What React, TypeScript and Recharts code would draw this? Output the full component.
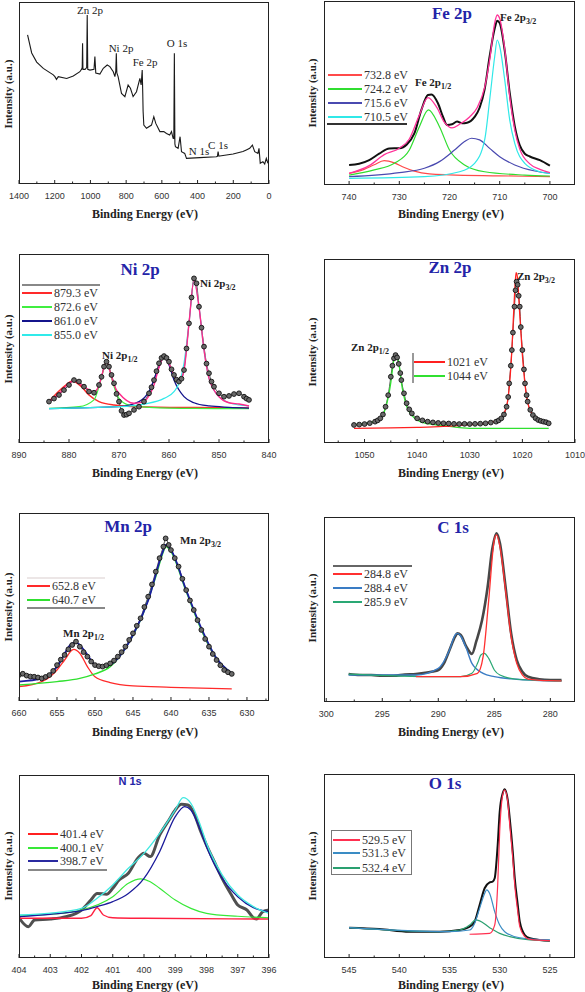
import React from "react";
import { Line, LineChart, XAxis, YAxis } from "recharts";

// ---------- data (binding energy in eV, intensity in % of plot height) ----------

// survey
const surveyX = [1352, 1329, 1301, 1264, 1208, 1199, 1190, 1180, 1133, 1096, 1059, 1050, 1046, 1044, 1042, 1030, 1021, 1018, 1015, 1003, 980, 975, 970, 947, 928, 906, 891, 872, 863, 858, 855, 852, 845, 826, 807, 789, 776, 761, 742, 723, 716, 712, 710, 707, 705, 701, 686, 658, 645, 634, 611, 589, 574, 556, 546, 537, 533, 530, 527, 524, 509, 498, 490, 472, 462, 388, 295, 289, 285, 281, 276, 201, 146, 127, 108, 93, 80, 62, 56, 49, 34, 24, 15, 6];
const surveyY = [82, 72, 67, 63.5, 60, 59, 57.5, 59, 58, 59.3, 61.7, 63, 64, 77.3, 63, 63, 64, 92.9, 63, 62.6, 63, 70, 61, 60.4, 63.6, 65.4, 64.5, 61.7, 59, 62, 71.8, 61, 59, 49.8, 48, 54.4, 52.6, 48, 50.7, 58, 54.4, 60, 62.6, 50, 40, 32.4, 30.6, 32.4, 37, 33.3, 28.8, 28.8, 27.8, 26.9, 28.8, 25.1, 25, 71.8, 22, 20.5, 19.6, 26, 17.8, 16.8, 14.1, 14.5, 15, 15.2, 17.8, 15.3, 15.4, 16.5, 17.8, 18.7, 19.6, 21.4, 17.8, 16.8, 19.6, 11.4, 12.3, 11, 14.1, 11.4];
const surveyLabels = ["Zn 2p", "Ni 2p", "Fe 2p", "O 1s", "N 1s", "C 1s"];

// Fe 2p
const feRawX = [740, 738, 736, 734, 732, 730, 728.5, 727, 725.6, 724.3, 723.6, 722.3, 721.3, 720.5, 719.5, 718.5, 717.5, 716.5, 715, 714, 713, 712, 711, 710.5, 710, 709, 708, 707, 706, 705, 704, 702, 700];
const feRawY = [10.9, 11.5, 13.5, 17, 19.9, 20, 22, 28, 40.8, 48.9, 49.2, 44.4, 37.1, 32.6, 33, 34.5, 33.5, 33.8, 37, 42, 52, 70, 85, 89.3, 88, 73, 50, 32, 21.5, 17, 15.5, 13.5, 10.5];
const feEnvX = [740, 736, 733, 730, 728, 726, 724.3, 722.5, 721, 719.5, 718, 716, 714.5, 713, 712, 711, 710.5, 710, 709, 708, 707, 706, 704, 702, 700];
const feEnvY = [6.3, 10.5, 16.5, 20, 25, 38, 47.5, 42, 34, 31, 33, 37, 42, 53, 68, 88, 92.4, 90.5, 74, 48, 30, 19.5, 11.5, 8.5, 6.7];
const fe1X = [740, 737, 735, 733, 731, 729, 727, 724, 720, 710, 700];
const fe1Y = [6.3, 8.5, 11, 13.2, 12, 9.5, 7.5, 6, 5.5, 5, 4.5];
const fe2X = [740, 735, 731, 728, 726, 724.2, 722, 720, 717, 713, 705, 700];
const fe2Y = [5.4, 8.2, 11.8, 19, 31.7, 40.8, 31.7, 19, 10.9, 7.2, 5.4, 4.9];
const fe3X = [740, 730, 725, 722, 719, 717, 715.6, 714, 712, 710, 707, 703, 700];
const fe3Y = [4.5, 6.7, 9.1, 12.7, 19, 23.6, 25.4, 24.5, 19.9, 15.4, 10.9, 7.6, 6.3];
const fe4X = [740, 725, 718, 715, 713, 712, 711, 710.5, 710, 709, 708, 707, 705, 702, 700];
const fe4Y = [3.6, 4.5, 7.2, 11.8, 24.5, 46.2, 69.7, 78.8, 75.4, 57.1, 35.3, 22.6, 11.8, 7.2, 6.3];
const feLegend = ["732.8 eV", "724.2 eV", "715.6 eV", "710.5 eV"];

// Ni 2p
const niRawX = [884, 883, 882, 881, 880, 879, 878, 877, 876, 875, 874, 873.5, 873, 872.5, 872, 871.5, 871, 870.5, 870, 869.5, 869, 868.5, 868, 867, 866, 865, 864, 863.5, 863, 862.5, 862, 861.5, 861, 860.5, 860, 859.5, 859, 858.5, 858, 857.5, 857, 856.5, 856, 855.5, 855, 854.5, 854, 853.5, 853, 852.5, 852, 851.5, 851, 850, 849, 848, 847, 846, 845, 844.5, 844];
const niRawY = [21.9, 23.5, 25.4, 28, 30.7, 33.3, 32.5, 29.8, 27.2, 26.6, 30.7, 35, 40.4, 43, 40.4, 36, 31.6, 26, 21.9, 17, 14.8, 15, 15.7, 17.5, 19.2, 21.9, 26.3, 29.5, 33.3, 38, 42.2, 45, 46, 45, 43, 39, 36, 33.5, 32.5, 34, 38.6, 50, 63.3, 77, 87.1, 84.5, 72.1, 61, 51, 42, 36.9, 32.5, 29.8, 26.3, 24.5, 24.9, 25.9, 26.3, 24.5, 23.5, 22.8];
const niEnvX = [884, 882, 880, 879, 877, 875, 874, 873.5, 872.5, 871.5, 870.5, 870, 867, 865, 864, 863, 862, 861, 860, 859, 858, 857, 856, 855, 854, 853, 852, 851, 850, 848, 846, 844];
const niEnvY = [21.9, 26, 31.6, 32.8, 29.8, 27, 30.5, 35, 43, 35, 28, 26.3, 21, 21.9, 25, 30.7, 40, 45.7, 42, 36, 32.5, 38.6, 63.3, 86.2, 72, 49.2, 34.2, 28, 24.5, 21.3, 20.6, 19.6];
const ni1X = [884, 881, 879.3, 877.5, 876, 874, 871, 866, 855, 844];
const ni1Y = [21.9, 29.8, 32.8, 29.8, 25.4, 21.9, 20.1, 19.2, 18.7, 18.5];
const ni2X = [884, 878, 875, 874, 873, 872.6, 872, 871, 870, 868, 864, 855, 844];
const ni2Y = [18.3, 19.2, 22.8, 29.8, 39.5, 42.7, 39.5, 29.8, 23.6, 20.1, 18.9, 18.3, 18.2];
const ni3X = [884, 870, 866, 864, 862, 861, 860, 859, 857, 855, 852, 848, 844];
const ni3Y = [18.2, 19.2, 21.9, 27.2, 40.4, 45.7, 41.3, 33.3, 24.5, 21.3, 19.6, 18.9, 18.5];
const ni4X = [884, 870, 865, 861, 859, 858, 857, 856, 855, 854, 853, 852, 850, 848, 846, 844];
const ni4Y = [18.2, 19.2, 20.6, 23.6, 27.2, 31.6, 42.2, 63.3, 86.2, 72.1, 49.2, 34.2, 24.5, 21.3, 20.1, 19.6];
const niLegend = ["879.3 eV", "872.6 eV", "861.0 eV", "855.0 eV"];

// Zn 2p
const znRawX = [1052, 1051, 1050, 1049, 1048, 1047.5, 1047, 1046.5, 1046, 1045.5, 1045, 1044.7, 1044.4, 1044.1, 1043.8, 1043.5, 1043.2, 1043, 1042.5, 1042, 1041.5, 1041, 1040, 1039, 1038, 1037, 1036, 1035, 1034, 1033, 1032, 1031, 1030, 1029, 1028, 1027, 1026, 1025, 1024.5, 1024, 1023.5, 1023, 1022.7, 1022.5, 1022.2, 1022, 1021.8, 1021.5, 1021.3, 1021.1, 1020.9, 1020.7, 1020.5, 1020.3, 1020, 1019.7, 1019.5, 1019.2, 1019, 1018.5, 1018, 1017.5, 1017, 1016.5, 1016, 1015.5, 1015];
const znRawY = [9.8, 10, 10.3, 10.8, 11.6, 12.3, 13.4, 15.5, 19.7, 26, 36, 42, 46, 47.8, 46.5, 43, 38, 34.2, 27, 21.6, 18.3, 16.1, 13.4, 12.3, 11.6, 11.2, 10.9, 10.7, 10.6, 10.4, 10.3, 10.4, 10.3, 10.4, 10.5, 10.7, 11.1, 11.6, 12.3, 13.4, 15.5, 19.7, 25, 32.4, 42, 50.5, 60, 74.1, 83, 87.7, 86, 80, 74.1, 63, 50.5, 40, 32.4, 26, 22.5, 18, 15.2, 13.5, 12.5, 12, 11.6, 11.3, 10.7];
const zn1X = [1052, 1045, 1040, 1035, 1030, 1027, 1025, 1024, 1023, 1022.5, 1022, 1021.5, 1021.2, 1021, 1020.5, 1020, 1019.5, 1019, 1018, 1017, 1016, 1015];
const zn1Y = [8, 8.2, 8.5, 9, 10, 10.7, 12, 14, 20, 30, 50.5, 80, 92.6, 91, 70, 48, 32, 22, 15, 12.5, 11.2, 10.7];
const zn2X = [1052, 1049, 1047, 1046, 1045, 1044.5, 1044.2, 1043.5, 1043, 1042, 1041, 1040, 1038, 1035, 1030, 1025, 1020, 1015];
const zn2Y = [10, 11, 13.4, 19, 33, 44, 48.5, 44, 33, 20, 15, 12.5, 10.5, 9.5, 8, 8, 8, 8];
const znLegend = ["1021 eV", "1044 eV"];

// Mn 2p
const mnRawX = [660, 659.5, 659, 658.5, 658, 657.5, 657, 656.5, 656, 655.5, 655, 654.5, 654, 653.5, 653, 652.5, 652, 651.5, 651, 650.5, 650, 649.5, 649, 648.5, 648, 647.5, 647, 646.5, 646, 645.5, 645, 644.5, 644, 643.5, 643, 642.5, 642, 641.5, 641, 640.7, 640.3, 640, 639.5, 639, 638.5, 638, 637.5, 637, 636.5, 636, 635.5, 635, 634.5, 634, 633.5, 633, 632.5, 632];
const mnRawY = [13.8, 14.5, 13.5, 13, 12.9, 12.5, 12, 12.8, 13.8, 16, 19.1, 22, 24.5, 27.5, 29.8, 31.6, 28.9, 26, 23.6, 21, 19.1, 18.5, 18.3, 19, 20, 21.5, 23.6, 26, 28.9, 32.5, 36, 40, 44, 50, 55.5, 62, 68.8, 76, 82.1, 86.5, 83, 80.3, 76, 71.5, 65, 59, 53.5, 48.4, 43, 37.8, 33, 28.9, 25, 21.8, 19, 16.5, 15.3, 14.4];
const mnEnvX = [660, 657, 655, 653, 652.5, 651, 650, 649, 648, 647, 645, 643, 641, 640.7, 640, 638, 636, 634, 632];
const mnEnvY = [10.3, 12, 18.1, 30.7, 31, 24.6, 19.3, 18.3, 19.3, 22.7, 35, 53.5, 80.3, 83, 80.3, 59, 38.7, 22.7, 14.7];
const mn1X = [660, 657, 655, 654, 653, 652.8, 652, 651, 650, 648, 645, 640, 632];
const mn1Y = [7.6, 10.3, 16.5, 21.8, 27.1, 27.5, 25.4, 18.3, 12.9, 9.8, 8, 7.3, 6.4];
const mn2X = [660, 655, 652, 650, 648, 646, 644, 642, 641, 640.7, 640, 638, 636, 634, 632];
const mn2Y = [8.5, 10.3, 12, 14.4, 18.3, 28, 43.1, 66.1, 79.4, 82.1, 79.4, 58.2, 37.8, 22.7, 14.7];
const mnLegend = ["652.8 eV", "640.7 eV"];

// C 1s
const cRawX = [298, 297, 296, 295, 294, 293, 292, 291, 290.5, 290, 289.5, 289, 288.5, 288.3, 288, 287.5, 287, 286.6, 286.1, 285.6, 285.2, 284.8, 284.5, 284, 283.5, 283, 282.5, 282, 281, 280, 279];
const cRawY = [15.1, 14.6, 14.6, 14.2, 14.2, 14.8, 15.1, 15.9, 16.5, 17.3, 20.9, 28.1, 35.3, 37.1, 36.2, 29.9, 26, 33, 44, 62, 82, 91.2, 85.8, 62.3, 37.1, 22.7, 16.4, 13.7, 12.3, 11.9, 11.9];
const c1X = [292, 288, 286.5, 286, 285.5, 285, 284.8, 284.5, 284, 283.5, 283, 282.5, 282, 280, 279];
const c1Y = [13.7, 13.7, 15.5, 24.5, 55.1, 87.6, 90.3, 84, 60.5, 35.3, 20.9, 14.6, 12.4, 11.5, 11.4];
const c2X = [298, 292, 290, 289, 288.5, 288.3, 288, 287.5, 287, 286, 285, 283, 280, 279];
const c2Y = [14.6, 14.6, 18.2, 28.1, 36.2, 37.1, 35.7, 29, 20.9, 15.5, 13.7, 12.3, 11.5, 11.4];
const c3X = [298, 290, 288, 287, 286.5, 286.2, 285.9, 285.5, 285, 284.5, 283, 280, 279];
const c3Y = [15.1, 13.7, 13.7, 15.5, 20.9, 25.4, 26.3, 23.6, 17.3, 14.6, 12.3, 11.5, 11.4];
const cLegend = ["284.8 eV", "288.4 eV", "285.9 eV"];

// N 1s
const nRawX = [404, 403.7, 403.5, 403, 402.5, 402, 401.7, 401.5, 401.2, 401, 400.8, 400.5, 400.2, 400, 399.8, 399.5, 399.2, 399, 398.8, 398.6, 398.4, 398.2, 398, 397.7, 397.5, 397.2, 397, 396.7, 396.5, 396.4, 396.2, 396];
const nRawY = [22, 17.1, 20.8, 21.3, 22.6, 26.2, 31.7, 35.3, 34.8, 38.1, 42.6, 46.3, 54.5, 57.2, 55.4, 67.2, 75.4, 80.9, 84, 83.6, 79.1, 69.9, 61.7, 50.8, 43.5, 34.4, 29, 26.2, 22, 21.3, 25.3, 26.2];
const nEnvX = [404, 403, 402, 401.5, 401, 400.5, 400, 399.5, 399, 398.75, 398.5, 398.2, 398, 397.5, 397, 396.5, 396];
const nEnvY = [23.5, 24.5, 27.1, 32.6, 39.9, 49, 57.2, 68.1, 80.9, 87.6, 84.5, 72.7, 62.7, 45.4, 34.4, 28.1, 24.4];
const n1X = [404, 402, 401.7, 401.5, 401.3, 401, 400, 396];
const n1Y = [21.7, 21.7, 23.2, 27.5, 23.5, 22, 21.7, 21.3];
const n2X = [404, 403, 402, 401, 400.5, 400.1, 399.8, 399.5, 399, 398.5, 398, 397, 396];
const n2Y = [23.1, 23.9, 26.2, 33.5, 40.8, 43.2, 41.7, 38.1, 31.7, 27.1, 24.4, 22.8, 22];
const n3X = [404, 403, 402, 401.5, 401, 400.5, 400, 399.5, 399, 398.7, 398.5, 398.2, 398, 397.5, 397, 396.5, 396];
const n3Y = [22.6, 23.9, 25.9, 28.1, 30.8, 35.3, 43.5, 58.1, 77.2, 82.7, 80.9, 69.9, 60.8, 43.5, 33.5, 27.5, 25.3];
const nLegend = ["401.4 eV", "400.1 eV", "398.7 eV"];

// O 1s
const oRawX = [545, 542, 539, 536, 534, 533, 532.5, 532, 531.5, 531, 530.7, 530.5, 530.2, 530, 529.7, 529.5, 529.2, 529, 528.7, 528.5, 528.2, 528, 527.5, 527, 526, 525];
const oRawY = [16.5, 15.8, 14.3, 14.3, 15.2, 17, 19.7, 28.8, 37.9, 41.1, 41.5, 43.3, 61.4, 79.5, 89.5, 91.7, 85.9, 75.9, 57.8, 43.3, 28.8, 19.7, 12.5, 10.7, 9.8, 9.4];
const o1X = [533, 531, 530.5, 530.2, 530, 529.7, 529.5, 529.2, 529, 528.7, 528.5, 528.2, 528, 527.5, 527, 525];
const o1Y = [12.9, 13.4, 17.9, 39.7, 68.7, 88.6, 91.3, 85, 72.5, 54.2, 39.7, 25.2, 17, 11.6, 10.1, 9.4];
const o2X = [545, 535, 533, 532.5, 532, 531.5, 531.3, 531, 530.5, 530, 529.5, 528, 525];
const o2Y = [16.5, 14.3, 15.2, 18.8, 27, 35.1, 37, 35.1, 25.2, 17.9, 14.3, 11, 9.8];
const o3X = [545, 536, 534, 533, 532.4, 532, 531, 530, 529, 527, 525];
const o3Y = [16.5, 14.3, 15.2, 17.9, 20.7, 20.2, 16.5, 13.4, 11.6, 9.8, 9.4];
const oLegend = ["529.5 eV", "531.3 eV", "532.4 eV"];

// ---------- drawing ----------

const SERIF = "'Liberation Serif', 'DejaVu Serif', serif";
const SANS = "'Liberation Sans', Arial, sans-serif";
const TITLE_BLUE = "#2424a8";
const PAD = 16; // room either side of the plot for the end tick labels

type Series = {
	key: string;
	xs: number[];
	ys: number[];
	color: string;
	width?: number;
	dots?: boolean;
	linear?: boolean;
};

function buildRows(series: Series[]) {
	const map = new Map<number, Record<string, number>>();
	series.forEach((s) =>
		s.xs.forEach((x, i) => {
			const row = map.get(x) ?? { x };
			row[s.key] = s.ys[i];
			map.set(x, row);
		}),
	);
	return [...map.values()].sort((a, b) => b.x - a.x);
}

interface PanelProps {
	left: number;
	top: number;
	w: number;
	h: number;
	domain: [number, number];
	major: number[];
	minor: number[];
	series: Series[];
}

function Panel({ left, top, w, h, domain, major, minor, series }: PanelProps) {
	const rows = buildRows(series);
	const majorSet = new Set(major);
	const renderTick = (props: any) => {
		const { x, payload } = props;
		const isMajor = majorSet.has(payload.value);
		return (
			<g key={`t-${payload.value}`}>
				<line x1={x} x2={x} y1={h} y2={h - (isMajor ? 4 : 2.5)} stroke="#222" strokeWidth={1} />
				{isMajor && (
					<text x={x} y={h + 14.5} textAnchor="middle" fontSize={9} fontFamily={SANS} fill="#333">
						{payload.value}
					</text>
				)}
			</g>
		);
	};
	return (
		<div style={{ position: "absolute", left: left - PAD, top, width: w + 2 * PAD, height: h + 20 }}>
			<LineChart width={w + 2 * PAD} height={h + 20} data={rows} margin={{ top: 0, right: PAD, bottom: 0, left: PAD }}>
				<XAxis
					dataKey="x"
					type="number"
					domain={domain}
					reversed
					allowDataOverflow
					ticks={[...major, ...minor]}
					interval={0}
					tickLine={false}
					axisLine={false}
					tickSize={0}
					tickMargin={0}
					height={20}
					tick={renderTick}
				/>
				<YAxis hide type="number" domain={[0, 100]} allowDataOverflow />
				{series.map((s) => (
					<Line
						key={s.key}
						dataKey={s.key}
						type={s.linear ? "linear" : "monotone"}
						stroke={s.color}
						strokeWidth={s.width ?? 1.2}
						dot={s.dots ? { r: 2.4, fill: "#6a6a6a", stroke: "#111", strokeWidth: 0.9 } : false}
						activeDot={false}
						connectNulls
						isAnimationActive={false}
					/>
				))}
			</LineChart>
			<div
				style={{
					position: "absolute",
					left: PAD,
					top: 0,
					width: w,
					height: h,
					border: "1.5px solid #222",
					boxSizing: "border-box",
					pointerEvents: "none",
				}}
			/>
		</div>
	);
}

function XTitle({ cx, y }: { cx: number; y: number }) {
	return (
		<div
			style={{
				position: "absolute",
				left: cx - 100,
				top: y - 8,
				width: 200,
				textAlign: "center",
				fontFamily: SERIF,
				fontWeight: "bold",
				fontSize: 12,
				lineHeight: "16px",
				color: "#222",
			}}
		>
			Binding Energy (eV)
		</div>
	);
}

function YTitle({ cx, cy }: { cx: number; cy: number }) {
	return (
		<div
			style={{
				position: "absolute",
				left: cx - 60,
				top: cy - 7,
				width: 120,
				height: 14,
				textAlign: "center",
				fontFamily: SERIF,
				fontWeight: "bold",
				fontSize: 11,
				lineHeight: "14px",
				color: "#222",
				transform: "rotate(-90deg)",
			}}
		>
			Intensity (a.u.)
		</div>
	);
}

function Title({ cx, cy, text, size = 17, sans = false }: { cx: number; cy: number; text: string; size?: number; sans?: boolean }) {
	return (
		<div
			style={{
				position: "absolute",
				left: cx - 50,
				top: cy - size * 0.6,
				width: 100,
				textAlign: "center",
				fontFamily: sans ? SANS : SERIF,
				fontWeight: "bold",
				fontSize: size,
				lineHeight: `${size * 1.2}px`,
				color: TITLE_BLUE,
			}}
		>
			{text}
		</div>
	);
}

function PeakLabel({ x, y, base, sub }: { x: number; y: number; base: string; sub: string }) {
	return (
		<div
			style={{
				position: "absolute",
				left: x,
				top: y - 7,
				fontFamily: SERIF,
				fontWeight: "bold",
				fontSize: 11,
				lineHeight: "14px",
				color: "#222",
				whiteSpace: "nowrap",
			}}
		>
			{base}
			<span style={{ fontSize: 8, position: "relative", top: 3 }}>{sub}</span>
		</div>
	);
}

function Rule({ x1, x2, y, color, thick = 1.5 }: { x1: number; x2: number; y: number; color: string; thick?: number }) {
	return (
		<div
			style={{
				position: "absolute",
				left: x1,
				top: y - thick / 2,
				width: x2 - x1,
				height: thick,
				background: color,
			}}
		/>
	);
}

function LegendRows({
	labels,
	colors,
	x,
	lineLen,
	ys,
}: {
	labels: string[];
	colors: string[];
	x: number;
	lineLen: number;
	ys: number[];
}) {
	return (
		<>
			{labels.map((label, i) => (
				<React.Fragment key={label}>
					<Rule x1={x} x2={x + lineLen} y={ys[i]} color={colors[i]} />
					<div
						style={{
							position: "absolute",
							left: x + lineLen + 2,
							top: ys[i] - 6,
							fontFamily: SERIF,
							fontSize: 12,
							lineHeight: "12px",
							color: "#333",
							whiteSpace: "nowrap",
						}}
					>
						{label}
					</div>
				</React.Fragment>
			))}
		</>
	);
}

const surveyPos = [
	[90, 10],
	[121, 48],
	[145, 62],
	[177, 43],
	[199, 151],
	[218, 145],
];

export default function App() {
	return (
		<div
			style={{
				position: "absolute",
				left: 0,
				top: 0,
				width: 585,
				height: 992,
				background: "#fff",
				overflow: "hidden",
			}}
		>
			{/* survey */}
			<Panel
				left={19}
				top={2}
				w={250}
				h={182}
				domain={[0, 1400]}
				major={[1400, 1200, 1000, 800, 600, 400, 200, 0]}
				minor={[1300, 1100, 900, 700, 500, 300, 100]}
				series={[{ key: "s", xs: surveyX, ys: surveyY, color: "#1a1a1a", width: 1.1, linear: true }]}
			/>
			{surveyLabels.map((t, i) => (
				<div
					key={t}
					style={{
						position: "absolute",
						left: surveyPos[i][0] - 30,
						top: surveyPos[i][1] - 7,
						width: 60,
						textAlign: "center",
						fontFamily: SERIF,
						fontSize: 11,
						lineHeight: "14px",
						color: "#222",
					}}
				>
					{t}
				</div>
			))}
			<YTitle cx={7.5} cy={94} />
			<XTitle cx={145} y={214} />

			{/* Fe 2p */}
			<Panel
				left={324}
				top={1}
				w={251}
				h={184}
				domain={[695, 745]}
				major={[740, 730, 720, 710, 700]}
				minor={[735, 725, 715, 705]}
				series={[
					{ key: "raw", xs: feRawX, ys: feRawY, color: "#111", width: 2 },
					{ key: "p1", xs: fe1X, ys: fe1Y, color: "#ff4a4a" },
					{ key: "p2", xs: fe2X, ys: fe2Y, color: "#30dd30" },
					{ key: "p3", xs: fe3X, ys: fe3Y, color: "#4a4ab0" },
					{ key: "p4", xs: fe4X, ys: fe4Y, color: "#30e8e8" },
					{ key: "env", xs: feEnvX, ys: feEnvY, color: "#ff3399", width: 1.3 },
				]}
			/>
			<Title cx={452} cy={14} text="Fe 2p" />
			<PeakLabel x={415} y={82} base="Fe 2p" sub="1/2" />
			<PeakLabel x={500} y={17} base="Fe 2p" sub="3/2" />
			<LegendRows labels={feLegend} colors={["#ff4a4a", "#30dd30", "#4a4ab0", "#30e8e8"]} x={328} lineLen={34} ys={[75, 89, 103, 117]} />
			<Rule x1={327} x2={407} y={124} color="#333" thick={1.2} />
			<YTitle cx={311.5} cy={93} />
			<XTitle cx={451} y={214} />

			{/* Ni 2p */}
			<Panel
				left={19}
				top={254}
				w={250}
				h={189}
				domain={[840, 890]}
				major={[890, 880, 870, 860, 850, 840]}
				minor={[885, 875, 865, 855, 845]}
				series={[
					{ key: "raw", xs: niRawX, ys: niRawY, color: "#222", width: 0.8, dots: true },
					{ key: "p1", xs: ni1X, ys: ni1Y, color: "#ff2a2a", width: 1.6 },
					{ key: "p2", xs: ni2X, ys: ni2Y, color: "#40ee40" },
					{ key: "p3", xs: ni3X, ys: ni3Y, color: "#14148c", width: 1.3 },
					{ key: "p4", xs: ni4X, ys: ni4Y, color: "#30eaea" },
					{ key: "env", xs: niEnvX, ys: niEnvY, color: "#ff2a8a", width: 1.4 },
				]}
			/>
			<Title cx={140} cy={270} text="Ni 2p" />
			<PeakLabel x={102} y={355} base="Ni 2p" sub="1/2" />
			<PeakLabel x={200} y={283} base="Ni 2p" sub="3/2" />
			<Rule x1={22} x2={100} y={285} color="#888" thick={1.5} />
			<LegendRows labels={niLegend} colors={["#ff2a2a", "#40ee40", "#14148c", "#30eaea"]} x={22} lineLen={30} ys={[293, 307, 321, 335]} />
			<YTitle cx={7.5} cy={349} />
			<XTitle cx={145} y={473} />

			{/* Zn 2p */}
			<Panel
				left={324}
				top={259}
				w={251}
				h={184}
				domain={[1010, 1057.7]}
				major={[1050, 1040, 1030, 1020, 1010]}
				minor={[1055, 1045, 1035, 1025, 1015]}
				series={[
					{ key: "raw", xs: znRawX, ys: znRawY, color: "#222", width: 0.8, dots: true },
					{ key: "p2", xs: zn2X, ys: zn2Y, color: "#30e030", width: 1.3 },
					{ key: "p1", xs: zn1X, ys: zn1Y, color: "#ff2020", width: 1.3 },
				]}
			/>
			<Title cx={450} cy={268} text="Zn 2p" />
			<PeakLabel x={351} y={347} base="Zn 2p" sub="1/2" />
			<PeakLabel x={517} y={276} base="Zn 2p" sub="3/2" />
			<div style={{ position: "absolute", left: 412, top: 353, width: 1.5, height: 30, background: "#999" }} />
			<LegendRows labels={znLegend} colors={["#ff2020", "#30e030"]} x={414} lineLen={31} ys={[362, 376]} />
			<YTitle cx={311.5} cy={352} />
			<XTitle cx={451} y={473} />

			{/* Mn 2p */}
			<Panel
				left={19}
				top={513}
				w={250}
				h={188}
				domain={[627.1, 660]}
				major={[660, 655, 650, 645, 640, 635, 630]}
				minor={[657.5, 652.5, 647.5, 642.5, 637.5, 632.5, 627.5]}
				series={[
					{ key: "raw", xs: mnRawX, ys: mnRawY, color: "#222", width: 0.8, dots: true },
					{ key: "p1", xs: mn1X, ys: mn1Y, color: "#ff2a2a", width: 1.3 },
					{ key: "p2", xs: mn2X, ys: mn2Y, color: "#30e030", width: 1.4 },
					{ key: "env", xs: mnEnvX, ys: mnEnvY, color: "#1c1ca0", width: 1.8 },
				]}
			/>
			<Title cx={128} cy={527} text="Mn 2p" />
			<PeakLabel x={63} y={633} base="Mn 2p" sub="1/2" />
			<PeakLabel x={180} y={540} base="Mn 2p" sub="3/2" />
			<Rule x1={27} x2={105} y={578} color="#ece6e6" thick={1.5} />
			<LegendRows labels={mnLegend} colors={["#ff2a2a", "#30e030"]} x={27} lineLen={23} ys={[586, 600]} />
			<Rule x1={27} x2={105} y={608} color="#888" thick={1.5} />
			<YTitle cx={7.5} cy={607} />
			<XTitle cx={145} y={732} />

			{/* C 1s */}
			<Panel
				left={324}
				top={517}
				w={251}
				h={185}
				domain={[277.8, 300.2]}
				major={[300, 295, 290, 285, 280]}
				minor={[297.5, 292.5, 287.5, 282.5]}
				series={[
					{ key: "raw", xs: cRawX, ys: cRawY, color: "#474747", width: 2.6 },
					{ key: "p2", xs: c2X, ys: c2Y, color: "#3a7cc4", width: 1.4 },
					{ key: "p3", xs: c3X, ys: c3Y, color: "#2aa874", width: 1.2 },
					{ key: "p1", xs: c1X, ys: c1Y, color: "#ff3030", width: 1.3 },
				]}
			/>
			<Title cx={453} cy={528} text="C 1s" />
			<Rule x1={333} x2={412} y={566} color="#666" thick={1.2} />
			<LegendRows labels={cLegend} colors={["#ff3030", "#3a7cc4", "#2aa874"]} x={333} lineLen={29} ys={[574, 588, 602]} />
			<YTitle cx={311.5} cy={608} />
			<XTitle cx={451} y={732} />

			{/* N 1s */}
			<Panel
				left={19}
				top={775}
				w={250}
				h={183}
				domain={[396, 404]}
				major={[404, 403, 402, 401, 400, 399, 398, 397, 396]}
				minor={[403.5, 402.5, 401.5, 400.5, 399.5, 398.5, 397.5, 396.5]}
				series={[
					{ key: "raw", xs: nRawX, ys: nRawY, color: "#505050", width: 3 },
					{ key: "p1", xs: n1X, ys: n1Y, color: "#ff2040", width: 1.4 },
					{ key: "p2", xs: n2X, ys: n2Y, color: "#38e838", width: 1.2 },
					{ key: "p3", xs: n3X, ys: n3Y, color: "#1a1a9a", width: 1.3 },
					{ key: "env", xs: nEnvX, ys: nEnvY, color: "#40e8e0", width: 1.3 },
				]}
			/>
			<Title cx={130} cy={782} text="N 1s" size={11} sans />
			<LegendRows labels={nLegend} colors={["#ff2020", "#38e838", "#2a2aa0"]} x={28} lineLen={30} ys={[834, 848, 861]} />
			<Rule x1={28} x2={107} y={870} color="#888" thick={1.5} />
			<YTitle cx={7.5} cy={866} />
			<XTitle cx={145} y={985} />

			{/* O 1s */}
			<Panel
				left={324}
				top={774}
				w={251}
				h={184}
				domain={[522.5, 547.5]}
				major={[545, 540, 535, 530, 525]}
				minor={[542.5, 537.5, 532.5, 527.5]}
				series={[
					{ key: "raw", xs: oRawX, ys: oRawY, color: "#111", width: 2 },
					{ key: "p3", xs: o3X, ys: o3Y, color: "#2aa070", width: 1.2 },
					{ key: "p2", xs: o2X, ys: o2Y, color: "#3a8cc4", width: 1.2 },
					{ key: "p1", xs: o1X, ys: o1Y, color: "#ff3050", width: 1.2 },
				]}
			/>
			<Title cx={445} cy={784} text="O 1s" />
			<div
				style={{
					position: "absolute",
					left: 331,
					top: 830,
					width: 81,
					height: 45,
					border: "1px solid #777",
					boxSizing: "border-box",
				}}
			/>
			<LegendRows labels={oLegend} colors={["#ff3050", "#3a8cc4", "#2aa070"]} x={333} lineLen={27} ys={[840, 853, 868]} />
			<YTitle cx={311.5} cy={866} />
			<XTitle cx={451} y={985} />
		</div>
	);
}
